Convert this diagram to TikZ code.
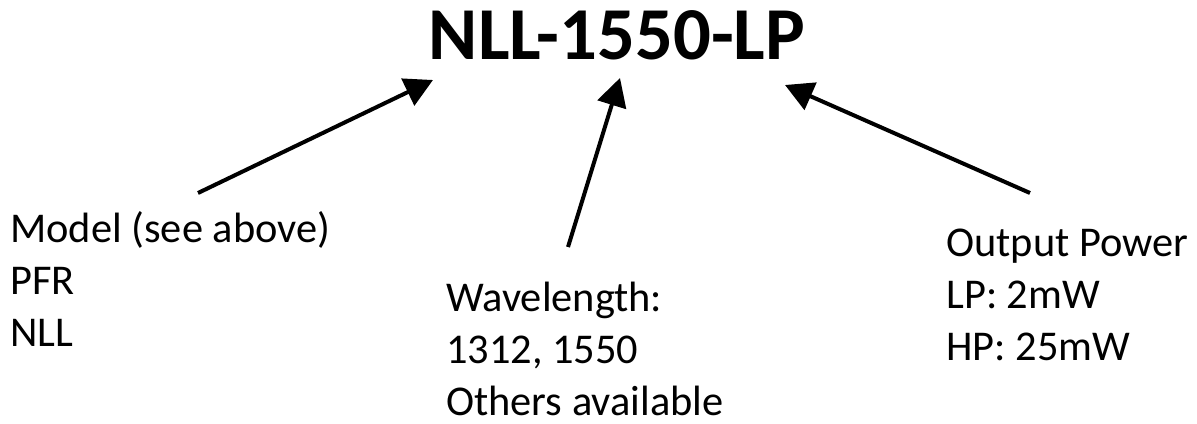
\documentclass[tikz,border=0pt]{standalone}
\usepackage{fontspec}
\setmainfont{Carlito}
\usetikzlibrary{arrows.meta}

\tikzset{
  infotext/.style={anchor=base west, inner sep=0pt, align=left, font=\fontsize{31.8}{39}\selectfont},
  pointer/.style={line width=3pt, -{Triangle[length=21pt,width=22pt]}}
}

\begin{document}
\begin{tikzpicture}[x=0.75pt,y=0.75pt,yscale=-1,xscale=1]
\useasboundingbox (0,0) rectangle (1197,424);

% Text Node
\node (code) [anchor=base, inner sep=0pt, font=\fontsize{56}{60}\selectfont\bfseries] at (617,60) {NLL-1550-LP};
% Text Node (anchored at the last line)
\node (model) [infotext] at (10,346) {Model (see above)\\PFR\\NLL};
% Text Node
\node (wave) [infotext] at (446,415) {Wavelength:\\1312, 1550\\Others available};
% Text Node
\node (power) [infotext] at (946,360) {Output Power\\LP: 2mW\\HP: 25mW};

%Straight Lines
\coordinate (model tail) at (198,193);
\coordinate (model tip) at (433,80);
\draw [pointer] (model tail) -- (model tip);
%Straight Lines
\coordinate (wave tail) at (568,247);
\coordinate (wave tip) at (620,78);
\draw [pointer] (wave tail) -- (wave tip);
%Straight Lines
\coordinate (power tail) at (1030,193);
\coordinate (power tip) at (785,85);
\draw [pointer] (power tail) -- (power tip);

\end{tikzpicture}
\end{document}
